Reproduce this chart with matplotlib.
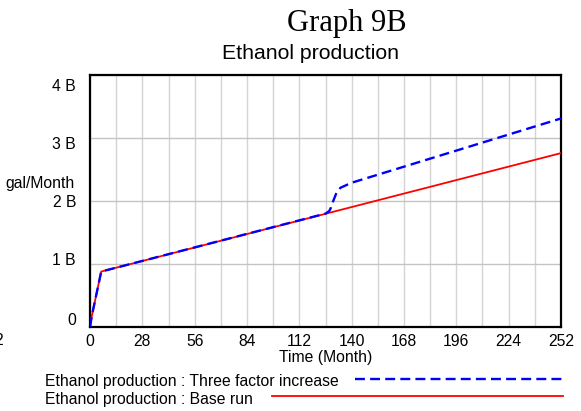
import matplotlib
matplotlib.use("Agg")
import matplotlib.pyplot as plt
from matplotlib.lines import Line2D
from matplotlib.transforms import ScaledTranslation

plt.rcParams["font.family"] = ["Liberation Sans", "DejaVu Sans"]

# data (values in billions of gal/Month)
t_base = [0, 1, 6, 252]
v_base = [0, 0.18, 0.88, 2.76]

t_three = [0, 1, 6, 126, 128, 129, 130, 132, 134, 137, 140, 252]
v_three = [0, 0.18, 0.88, 1.80, 1.84, 1.90, 1.99, 2.14, 2.21, 2.25, 2.29, 3.31]

x_ticks = list(range(0, 253, 28))
y_ticks = [0, 1, 2, 3, 4]
y_tick_labels = ["0", "1 B", "2 B", "3 B", "4 B"]
legend_labels = ["Ethanol production : Three factor increase",
                 "Ethanol production : Base run"]

W, H = 581, 411
fig = plt.figure(figsize=(W / 100, H / 100), dpi=100)


def fx(px):
    return px / W


def fy(py):
    return 1 - py / H


ax = fig.add_axes([fx(90), fy(327), fx(561) - fx(90), fy(75) - fy(327)])

ax.plot(t_base, v_base, color="#ff0000", lw=1.3, zorder=3)
ax.plot(t_three, v_three, color="#0000ff", lw=1.7, dashes=(4.2, 2.2), zorder=4)

ax.set_xlim(0, 252)
ax.set_ylim(0, 4)
ax.set_xticks(x_ticks)
ax.set_xticks(range(0, 253, 14), minor=True)
ax.set_yticks(y_ticks)
ax.set_yticklabels(y_tick_labels)
ax.grid(True, which="both", axis="x", color="#d4d4d4", lw=1)
ax.grid(True, which="major", axis="y", color="#c4c4c4", lw=1)
ax.tick_params(which="both", length=0, labelsize=11.3)
ax.tick_params(axis="x", pad=5)
ax.tick_params(axis="y", pad=10)
for s in ax.spines.values():
    s.set_linewidth(1.6)
    s.set_color("black")

# the y labels in the original sit on a slightly squeezed scale
shift_px = [-8, -4.7, 0, 4.7, 10]
for lab, d in zip(ax.get_yticklabels(), shift_px):
    lab.set_transform(lab.get_transform() + ScaledTranslation(0, -d / 100, fig.dpi_scale_trans))

ax.set_xlabel("Time (Month)", fontsize=11.3, labelpad=1)

fig.text(fx(74.5), fy(183), "gal/Month", ha="right", va="center", fontsize=11.3)
fig.text(fx(3), fy(340), "2", ha="right", va="center", fontsize=11.3)

fig.text(fx(347), fy(30.7), "Graph 9B", ha="center", va="baseline",
         fontsize=22, family="Liberation Serif")
fig.text(fx(310), fy(59.3), "Ethanol production", ha="center", va="baseline",
         fontsize=15.3)

# legend below the plot
fig.text(fx(45), fy(381.7), legend_labels[0], ha="left", va="center", fontsize=11.3)
fig.text(fx(45), fy(399), legend_labels[1], ha="left", va="center", fontsize=11.3)
fig.add_artist(Line2D([fx(355), fx(563)], [fy(379.3), fy(379.3)],
                      color="#0000ff", lw=1.7, dashes=(4.2, 2.2)))
fig.add_artist(Line2D([fx(272), fx(563)], [fy(395.7), fy(395.7)],
                      color="#ff0000", lw=1.3))

fig.savefig("out.png", dpi=100)
